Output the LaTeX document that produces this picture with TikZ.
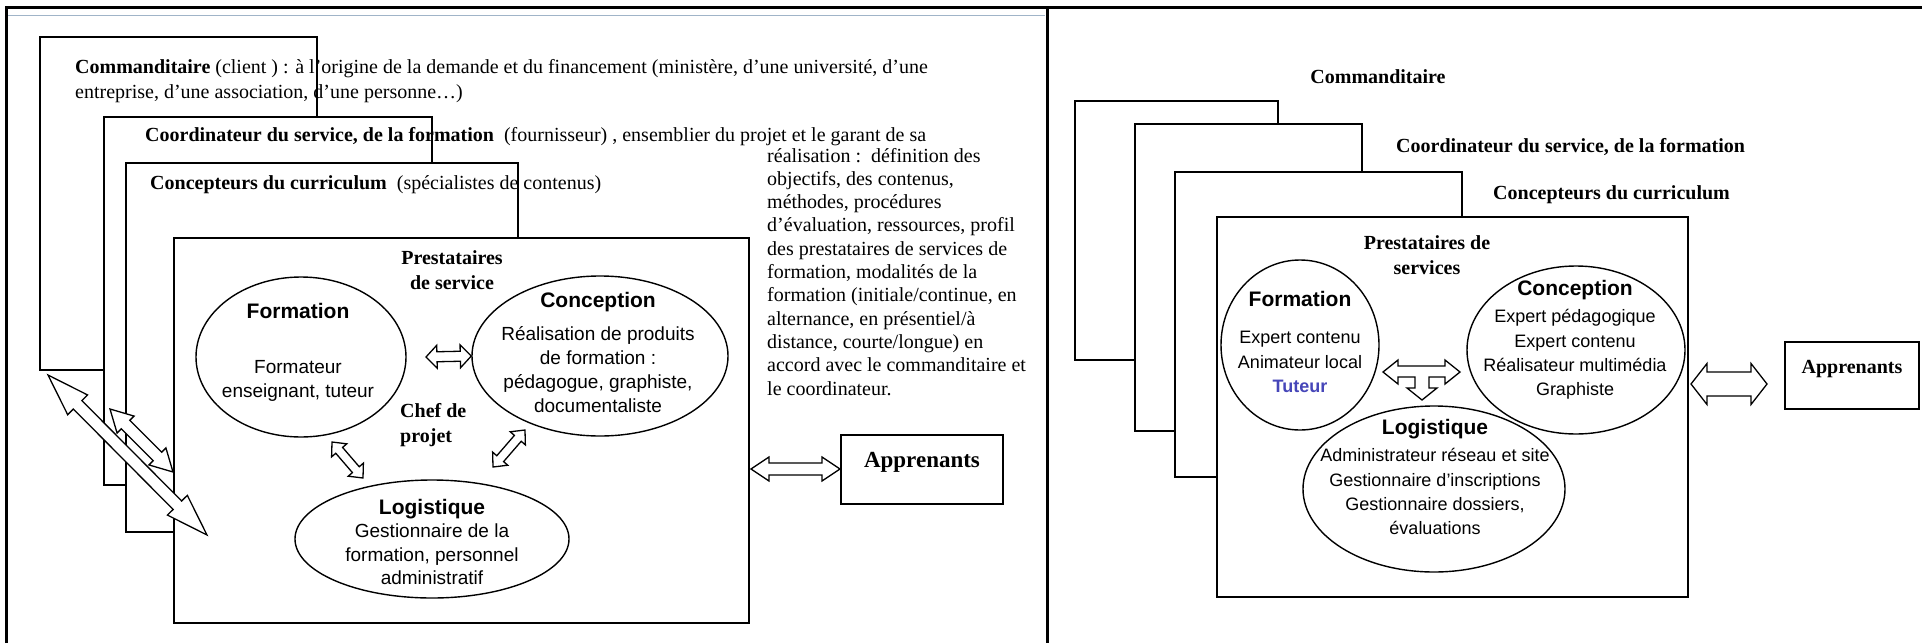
\documentclass[tikz,border=0pt]{standalone}
\usepackage{fontspec}
\setmainfont{Liberation Serif}
\setsansfont{Liberation Sans}
\usetikzlibrary{calc,shapes.geometric}

\definecolor{tuteur}{RGB}{70,70,185}
\definecolor{filet}{RGB}{160,180,200}

% flèche double : extrémités, demi-tige, demi-tête, longueur de tête
\newcommand{\blockarrow}[5]{%
	\draw[barrow] (#1)
		-- ($(#1)!#5!(#2)!#4!90:(#2)$) -- ($(#1)!#5!(#2)!#3!90:(#2)$)
		-- ($(#2)!#5!(#1)!#3!-90:(#1)$) -- ($(#2)!#5!(#1)!#4!-90:(#1)$)
		-- (#2)
		-- ($(#2)!#5!(#1)!#4!90:(#1)$) -- ($(#2)!#5!(#1)!#3!90:(#1)$)
		-- ($(#1)!#5!(#2)!#3!-90:(#2)$) -- ($(#1)!#5!(#2)!#4!-90:(#2)$)
		-- cycle;}
\newcommand{\etitle}[1]{{\bfseries\fontsize{21}{24}\selectfont #1}}

\begin{document}
\begin{tikzpicture}[x=1pt,y=-1pt,
	layer/.style={draw,fill=white,line width=1.6pt},
	ell/.style={draw,ellipse,line width=1.4pt,inner sep=0pt},
	etxt/.style={font=\sffamily\fontsize{19}{24}\selectfont,align=center,inner sep=0pt},
	stxt/.style={font=\fontsize{20}{23.3}\selectfont,anchor=base west,inner sep=0pt},
	btxt/.style={font=\bfseries\fontsize{20}{25}\selectfont,inner sep=0pt},
	appbox/.style={draw,line width=2pt,inner sep=0pt,text height=16pt,text depth=20pt,font=\bfseries\fontsize{23}{26}\selectfont},
	barrow/.style={draw,fill=white,line width=1.3pt,line join=miter}]
	\useasboundingbox (0,0) rectangle (1922,643);
	% cadres
	\draw[line width=3pt] (6,643) -- (6,7) -- (1922,7);
	\draw[line width=3pt] (1047,7) -- (1047,643);
	\draw[filet,line width=1pt] (8,15) -- (1045,15);

	% ---- partie gauche
	\draw[layer] (40,37) rectangle (317,370);
	\draw[layer] (104,117) rectangle (432,485);
	\draw[layer] (126,163) rectangle (518,532);
	\draw[layer] (174,238) rectangle (749,623);

	\node[stxt] (cmdL) at (75,73) {\textbf{Commanditaire} (client ) : à l’origine de la demande et du financement (ministère, d’une université, d’une};
	\node[stxt] (cmdL2) at (75,98) {entreprise, d’une association, d’une personne…)};
	\node[stxt] (coordL) at (145,141) {\textbf{Coordinateur du service, de la formation}\enspace(fournisseur) , ensemblier du projet et le garant de sa};
	\node[stxt] (curL) at (150,189) {\textbf{Concepteurs du curriculum}\enspace(spécialistes de contenus)};
	\foreach \l [count=\i from 0] in {{réalisation :\enspace définition des},{objectifs, des contenus,},{méthodes, procédures},
		{d’évaluation, ressources, profil},{des prestataires de services de},{formation, modalités de la},
		{formation (initiale/continue, en},{alternance, en présentiel/à},{distance, courte/longue) en},
		{accord avec le commanditaire et},{le coordinateur.}}
		\node[stxt] (colL\i) at (767,162+23.3*\i) {\l};

	\node[btxt,align=center] (prestL) at (452,270) {Prestataires\\de service};
	\node[btxt,align=left,anchor=west] (chefL) at (400,425) {Chef de\\projet};

	\node[ell,minimum width=210pt,minimum height=160pt] (formL) at (301,357) {};
	\node[ell,minimum width=256pt,minimum height=160pt] (concL) at (600,356) {};
	\node[ell,minimum width=274pt,minimum height=118pt] (logL) at (432,539) {};
	\node[etxt] (formLt) at (298,352) {\etitle{Formation}\\[31pt]Formateur\\enseignant, tuteur};
	\node[etxt] (concLt) at (598,352) {\etitle{Conception}\\[9pt]Réalisation de produits\\de formation :\\pédagogue, graphiste,\\documentaliste};
	\node[etxt,font=\sffamily\fontsize{19}{23.5}\selectfont] (logLt) at (432,542) {\etitle{Logistique}\\Gestionnaire de la\\formation, personnel\\administratif};

	\node[appbox,minimum width=162pt,minimum height=69pt] (appL) at (922,469) {Apprenants};

	\coordinate (bigA1) at (48,375);
	\coordinate (bigA2) at (207,535);
	\coordinate (bigB1) at (110,409);
	\coordinate (bigB2) at (173,472);
	\coordinate (fcL) at (426,357);
	\coordinate (flL1) at (332,442);
	\coordinate (flL2) at (363,478);
	\coordinate (clL1) at (525,430);
	\coordinate (clL2) at (493,467);
	\coordinate (paL) at (751,469);
	\blockarrow{bigB1}{bigB2}{6pt}{12pt}{22pt}
	\blockarrow{bigA1}{bigA2}{6pt}{14pt}{42pt}
	\blockarrow{fcL}{concL.west}{5pt}{11.5pt}{11pt}
	\blockarrow{flL1}{flL2}{4.5pt}{10pt}{11pt}
	\blockarrow{clL1}{clL2}{4.5pt}{10pt}{11pt}
	\blockarrow{paL}{appL.west}{6pt}{12pt}{18pt}

	% ---- partie droite
	\draw[layer] (1075,101) rectangle (1278,360);
	\draw[layer] (1135,124) rectangle (1362,431);
	\draw[layer] (1175,172) rectangle (1462,477);
	\draw[layer] (1217,217) rectangle (1688,597);

	\node[btxt] (cmdR) at (1378,77) {Commanditaire};
	\node[btxt,anchor=west] (coordR) at (1396,147) {Coordinateur du service, de la formation};
	\node[btxt,anchor=west] (curR) at (1493,195) {Concepteurs du curriculum};
	\node[btxt,align=center] (prestR) at (1427,255) {Prestataires de\\services};

	\node[ell,minimum width=158pt,minimum height=170pt] (formR) at (1300,345) {};
	\node[ell,minimum width=218pt,minimum height=168pt] (concR) at (1576,350) {};
	\node[ell,minimum width=262pt,minimum height=166pt] (logR) at (1434,489) {};
	\node[etxt,font=\sffamily\fontsize{18}{24.3}\selectfont] (formRt) at (1300,342) {\etitle{Formation}\\[13pt]Expert contenu\\Animateur local\\\textcolor{tuteur}{\bfseries Tuteur}};
	\node[etxt,font=\sffamily\fontsize{18}{24.3}\selectfont] (concRt) at (1575,340) {\etitle{Conception}\\[3pt]Expert pédagogique\\Expert contenu\\Réalisateur multimédia\\Graphiste};
	\node[etxt,font=\sffamily\fontsize{18}{24.3}\selectfont] (logRt) at (1435,477) {\etitle{Logistique}\\[3pt]Administrateur réseau et site\\Gestionnaire d’inscriptions\\Gestionnaire dossiers,\\évaluations};

	\node[appbox,minimum width=134pt,minimum height=67pt,font=\bfseries\fontsize{20}{24}\selectfont] (appR) at (1852,375.5) {Apprenants};

	\coordinate (tR) at (1422,372);
	\draw[barrow] (tR) ++(-39,0) -- ++(15,-12) -- ++(0,6) -- ++(47,0) -- ++(0,-6) -- ++(15,12)
		-- ++(-15,12) -- ++(0,-7) -- ++(-16,0) -- ++(0,11) -- ++(8,0) -- ++(-15,12)
		-- ++(-15,-12) -- ++(8,0) -- ++(0,-11) -- ++(-17,0) -- ++(0,7) -- cycle;
	\coordinate (paR1) at (1691,384);
	\coordinate (paR2) at (1767,384);
	\blockarrow{paR1}{paR2}{12pt}{20.5pt}{16pt}
\end{tikzpicture}
\end{document}
